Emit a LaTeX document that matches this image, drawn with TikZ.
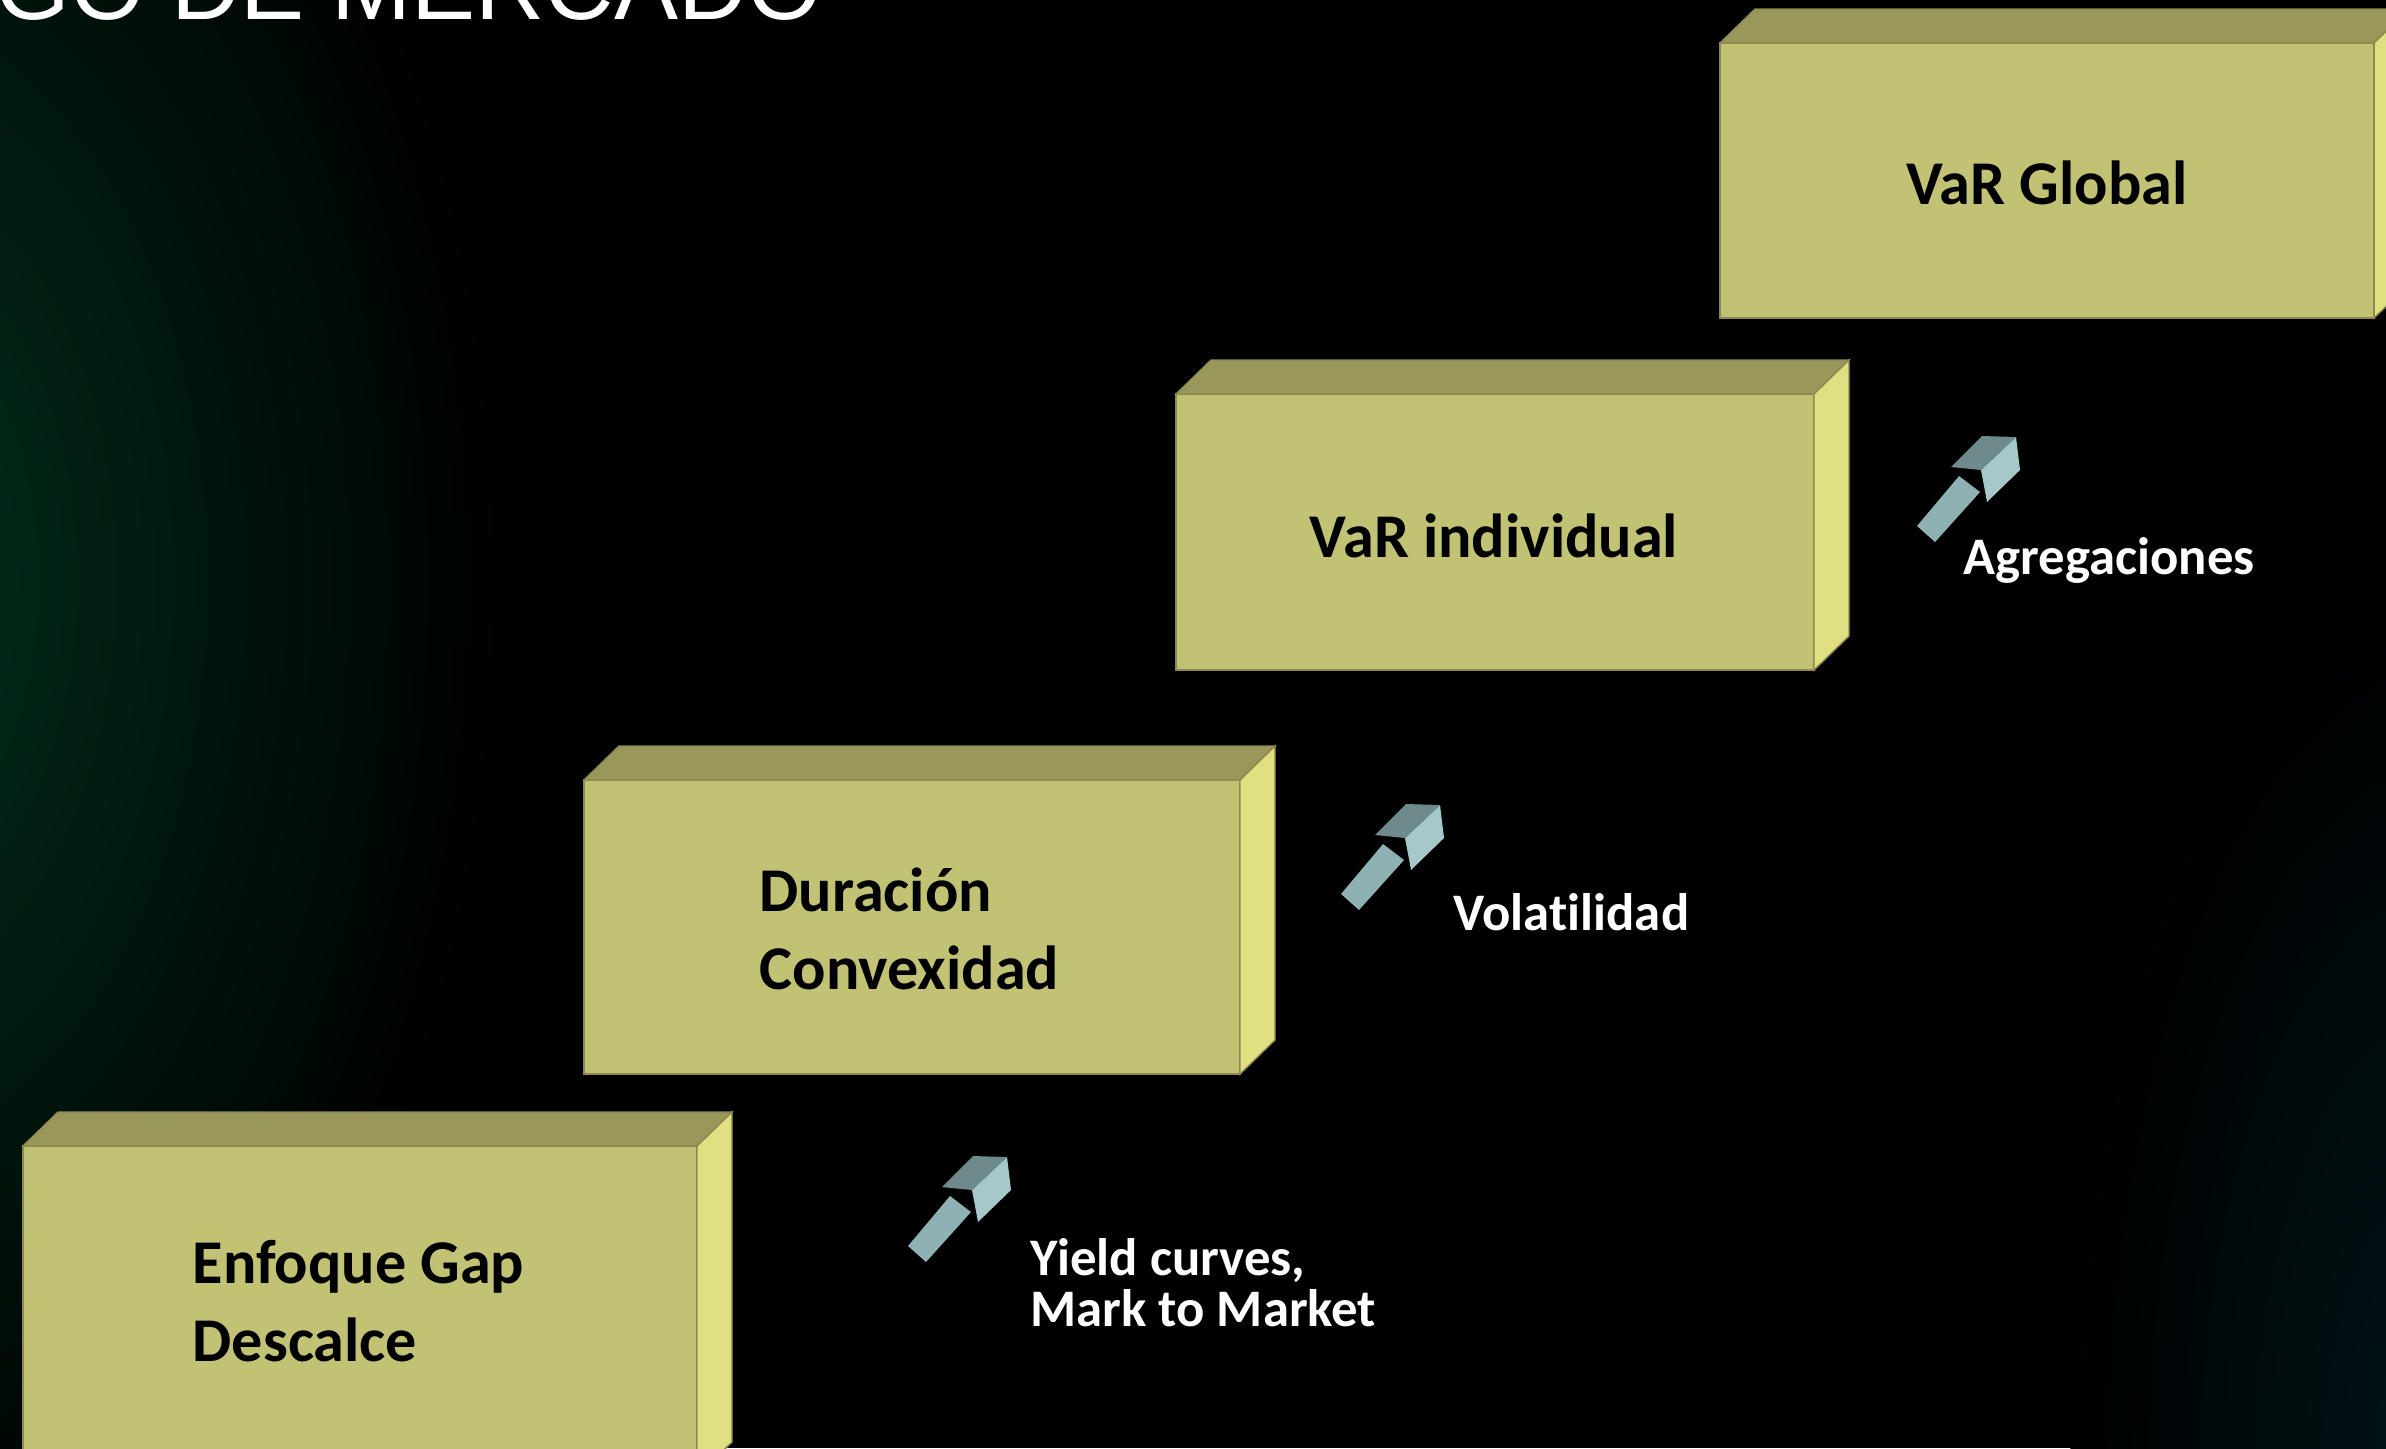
\documentclass[tikz,border=0pt]{standalone}
\usepackage{fontspec}
\setmainfont{Carlito}[Ligatures=NoCommon]
\newfontfamily\titlefam{Liberation Sans}
\usepackage{tikz}
\usetikzlibrary{calc}
\definecolor{boxfront}{HTML}{C1C274}
\definecolor{boxtop}{HTML}{9A975A}
\definecolor{boxside}{HTML}{E0E083}
\definecolor{boxedge}{HTML}{8C8A50}
\definecolor{arrshaft}{HTML}{90B1B3}
\definecolor{arrtop}{HTML}{6E8A8D}
\definecolor{arrfront}{HTML}{A7C8CA}
\definecolor{glowgreen}{HTML}{01321D}
\definecolor{glowteal}{HTML}{00161A}

\tikzset{
	boxface/.style={fill=boxfront, draw=boxedge, line width=0.4pt, inner sep=0pt, outer sep=0pt, anchor=north west},
	boxtxt/.style={font=\bfseries\fontsize{17.7}{22}\selectfont, text=black, align=left, inner sep=0pt},
	lbltxt/.style={font=\bfseries\fontsize{15}{14.5}\selectfont, text=white, align=left, inner sep=0pt, anchor=west},
}

\begin{document}
\begin{tikzpicture}[x=0.01cm, y=-0.01cm]
	\useasboundingbox (0,0) rectangle (2386,1448);
	\fill[black] (0,0) rectangle (2386,1448);
	% glows
	\shade[inner color=glowgreen, outer color=black] (-150,580) ellipse [x radius=650, y radius=1050];
	\shade[inner color=glowteal, outer color=black] (2450,1480) ellipse [x radius=380, y radius=900];
	\node[font=\titlefam\fontsize{27.3}{30}\selectfont, text=white, anchor=base east, inner sep=0pt] (title) at (823,19) {RIESGO DE MERCADO};
	% steps
	\foreach \n/\x/\y/\w/\h in {1/23/1146/674/330, 2/584/780/656/294, 3/1176/394/638/276, 4/1720/43/654/275}
	{
		\node[boxface, minimum width=\w*0.01cm, minimum height=\h*0.01cm] (b\n) at (\x,\y) {};
		\filldraw[fill=boxtop, draw=boxedge, line width=0.4pt] (b\n.north west) -- ++(35,-34) -- ([shift={(35,-34)}]b\n.north east) -- (b\n.north east) -- cycle;
		\filldraw[fill=boxside, draw=boxedge, line width=0.4pt] (b\n.north east) -- ++(35,-34) -- ([shift={(35,-34)}]b\n.south east) -- (b\n.south east) -- cycle;
	}
	\node[boxtxt, anchor=west] (gap) at (192,1301) {Enfoque Gap\\Descalce};
	\node[boxtxt, anchor=west] (dur) at (759,929) {Duración\\Convexidad};
	\node[boxtxt] (ind) at (1494,536) {VaR individual};
	\node[boxtxt] (glob) at (2047,183) {VaR Global};
	% arrows
	\foreach \x/\y in {908/1246, 1341/894, 1917/526}
	{
		\begin{scope}[shift={(\x,\y)}]
			\fill[arrshaft] (0,0) -- (42,-50) -- (63,-34) -- (18,16) -- cycle;
			\fill[arrfront] (64,-56) -- (99,-89) -- (103,-56) -- (70,-24) -- cycle;
			\fill[arrtop] (34,-59) -- (65,-90) -- (99,-89) -- (64,-56) -- cycle;
		\end{scope}
	}
	\node[lbltxt] (yield) at (1030,1283) {Yield curves,\\Mark to Market};
	\node[lbltxt] (vol) at (1453,912) {Volatilidad};
	\node[lbltxt] (agr) at (1963,560) {Agregaciones};
\end{tikzpicture}
\end{document}
